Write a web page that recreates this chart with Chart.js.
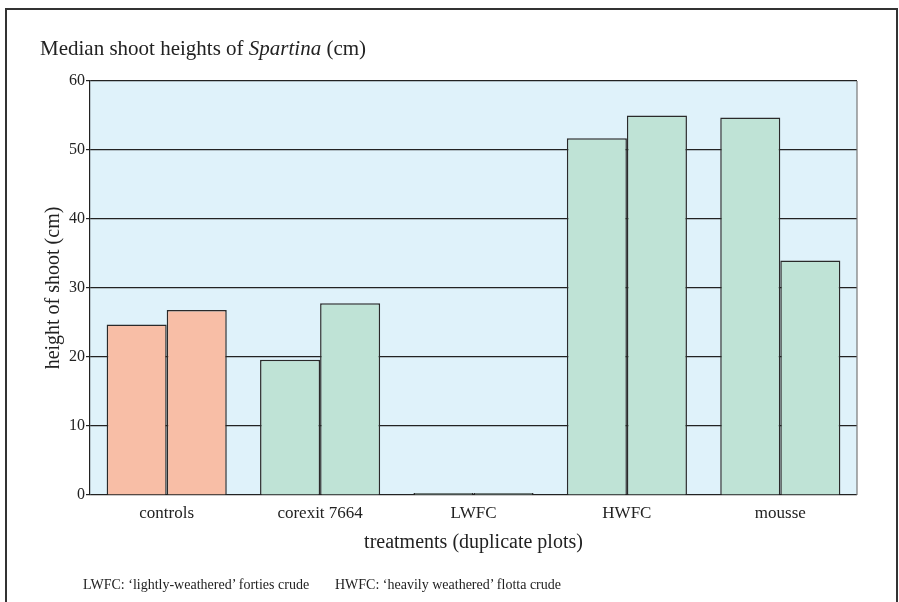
<!DOCTYPE html>
<html lang="en">
	<head>
		<meta charset="UTF-8" />
		<title>Median shoot heights of Spartina</title>
		<style>
			html, body { margin: 0; padding: 0; background: #fff; }
			#page { position: relative; width: 899px; height: 602px; overflow: hidden; font-family: "Liberation Serif", "DejaVu Serif", serif; color: #222; }
			#frame { position: absolute; left: 5px; top: 8px; width: 889px; height: 610px; border: 2px solid #333; }
			#myChart { position: absolute; left: 0; top: 0; }
			.txt { position: absolute; white-space: nowrap; }
			#title { left: 40px; top: 38px; font-size: 21px; line-height: 21px; }
			.note { top: 578px; font-size: 14px; line-height: 14px; }
		</style>
	</head>

	<body>
		<div id="page">
			<div id="frame"></div>
			<canvas id="myChart" width="899" height="602"></canvas>
			<div id="title" class="txt">Median shoot heights of <i>Spartina</i> (cm)</div>
			<div class="txt note" style="left: 83px">LWFC: ‘lightly-weathered’ forties crude</div>
			<div class="txt note" style="left: 335px">HWFC: ‘heavily weathered’ flotta crude</div>
		</div>

		<script src="https://cdn.jsdelivr.net/npm/chart.js@4.4.0/dist/chart.umd.min.js"></script>
		<script>
			// data
			var treatments = ["controls", "corexit 7664", "LWFC", "HWFC", "mousse"];
			var plot1 = [24.7, 19.6, 0.3, 51.7, 54.7];
			var plot2 = [26.8, 27.8, 0.3, 55.0, 34.0];
			var yTicks = [0, 10, 20, 30, 40, 50, 60];

			var salmon = "#f8bea6";
			var green = "#bfe3d6";
			var barColors = treatments.map(function (t) {
				return t === "controls" ? salmon : green;
			});

			var serif = "'Liberation Serif', 'DejaVu Serif', serif";

			// light blue plot background + right edge of the frame
			var plotBox = {
				id: "plotBox",
				beforeDraw: function (chart) {
					var a = chart.chartArea;
					var ctx = chart.ctx;
					ctx.save();
					ctx.fillStyle = "#dff2fa";
					ctx.fillRect(a.left, a.top, a.right - a.left, a.bottom - a.top);
					ctx.restore();
				},
				afterDraw: function (chart) {
					var a = chart.chartArea;
					var ctx = chart.ctx;
					ctx.save();
					ctx.strokeStyle = "#777";
					ctx.lineWidth = 1.2;
					ctx.beginPath();
					ctx.moveTo(a.right, a.top);
					ctx.lineTo(a.right, a.bottom);
					ctx.stroke();
					ctx.restore();
				},
			};

			var ctx = document.getElementById("myChart").getContext("2d");
			var chart = new Chart(ctx, {
				type: "bar",
				data: {
					labels: treatments,
					datasets: [
						{
							label: "plot 1",
							data: plot1,
							backgroundColor: barColors,
							borderColor: "#2a2a2a",
							borderWidth: 1.5,
						},
						{
							label: "plot 2",
							data: plot2,
							backgroundColor: barColors,
							borderColor: "#2a2a2a",
							borderWidth: 1.5,
						},
					],
				},
				options: {
					responsive: false,
					animation: false,
					devicePixelRatio: 1,
					categoryPercentage: 0.783,
					barPercentage: 1.0,
					layout: { padding: { top: 81, right: 42, bottom: 47, left: 0 } },
					plugins: {
						legend: { display: false },
						tooltip: { enabled: false },
					},
					scales: {
						x: {
							grid: { display: false },
							border: { display: false },
							ticks: { color: "#222", padding: 0, font: { family: serif, size: 17 } },
							title: {
								display: true,
								text: "treatments (duplicate plots)",
								color: "#222",
								padding: { top: 0, bottom: 0 },
								font: { family: serif, size: 20 },
							},
							afterFit: function (scale) {
								scale.height = 60;
							},
						},
						y: {
							min: 0,
							max: 60,
							afterBuildTicks: function (scale) {
								scale.ticks = yTicks.map(function (v) {
									return { value: v };
								});
							},
							grid: { color: "#222", lineWidth: 1.2, tickLength: 4 },
							border: { color: "#222", width: 1.2 },
							ticks: { color: "#222", padding: 1, font: { family: serif, size: 16 } },
							title: {
								display: true,
								text: "height of shoot (cm)",
								color: "#222",
								padding: { top: 42, bottom: 0 },
								font: { family: serif, size: 20 },
							},
							afterFit: function (scale) {
								scale.width = 90;
							},
						},
					},
				},
				plugins: [plotBox],
			});
		</script>
	</body>
</html>
